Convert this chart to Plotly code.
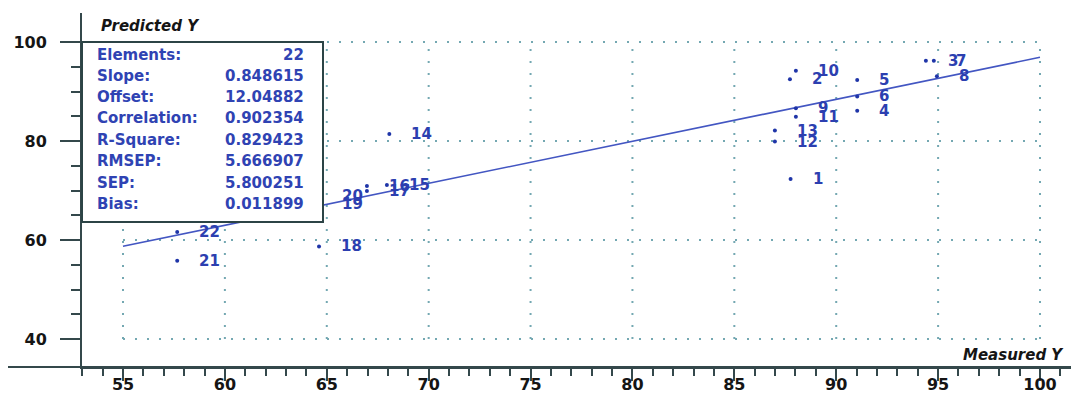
import plotly.graph_objects as go

# ---------------- data ----------------
point_ids = [str(i) for i in range(1, 23)]
measured = [87.76, 87.73, 94.40, 91.03, 91.03, 91.03, 94.79, 94.94, 88.02, 88.02, 88.02,
            86.99, 86.99, 68.07, 67.95, 66.97, 66.97, 64.62, 64.67, 64.67, 57.66, 57.66]
predicted = [72.3, 92.5, 96.2, 86.1, 92.3, 89.0, 96.2, 93.1, 86.6, 94.2, 84.9,
             79.9, 82.1, 81.4, 71.1, 70.9, 69.9, 58.7, 67.3, 68.9, 55.8, 61.6]

stat_names = ["Elements:", "Slope:", "Offset:", "Correlation:", "R-Square:",
              "RMSEP:", "SEP:", "Bias:"]
stat_values = ["22", "0.848615", "12.04882", "0.902354", "0.829423",
               "5.666907", "5.800251", "0.011899"]
slope = 0.848615
offset = 12.04882

x_ticks = [55, 60, 65, 70, 75, 80, 85, 90, 95, 100]
y_ticks = [40, 60, 80, 100]
y_minor = [45, 50, 55, 65, 70, 75, 85, 90, 95]

# ---------------- layout geometry ----------------
W, H = 1071, 394
ML, MR, MT, MB = 82, 0, 13, 27
PW, PH = W - ML - MR, H - MT - MB
KX = (1040 - 123) / 45.0
KY = (339 - 42) / 60.0
X0 = 55 - (123 - ML) / KX
X1 = X0 + PW / KX
Y0 = 40 - ((H - MB) - 339) / KY
Y1 = Y0 + PH / KY


def px(xp):
    return (xp - ML) / PW


def py(yp):
    return ((H - MB) - yp) / PH


AXC = "#34484b"
GRIDC = "#74a8b2"
BLUE = "#2f43b3"
FONT = "DejaVu Sans"

fig = go.Figure()

# regression line
fit_x = [x_ticks[0], x_ticks[-1]]
fit_y = [slope * v + offset for v in fit_x]
fig.add_trace(go.Scatter(x=fit_x, y=fit_y, mode="lines",
                         line=dict(color="#4356c2", width=1.6),
                         hoverinfo="skip", showlegend=False))

# points
fig.add_trace(go.Scatter(x=measured, y=predicted, mode="markers",
                         marker=dict(size=4, color="#1f35a8"),
                         text=point_ids, showlegend=False))

shapes = []
# dotted grid confined to data region
for xv in x_ticks:
    shapes.append(dict(type="line", xref="x", yref="y", x0=xv, x1=xv,
                       y0=y_ticks[0], y1=y_ticks[-1], layer="below",
                       line=dict(color=GRIDC, width=2, dash="2px,10px")))
for yv in y_ticks:
    shapes.append(dict(type="line", xref="x", yref="y", x0=x_ticks[0], x1=x_ticks[-1],
                       y0=yv, y1=yv, layer="below",
                       line=dict(color=GRIDC, width=2, dash="2px,10px")))
# x axis line extension to the left
shapes.append(dict(type="line", xref="paper", yref="paper", x0=px(8), x1=1.0,
                   y0=0, y1=0, layer="above", line=dict(color=AXC, width=2)))
# stats box
shapes.append(dict(type="rect", xref="paper", yref="paper",
                   x0=px(82), x1=px(323), y0=py(222), y1=py(42), layer="above",
                   fillcolor="white", line=dict(color="#2c4446", width=2)))

annotations = []
row_y = [55, 76, 97, 118.5, 140, 161, 183, 204]
for name, val, ry in zip(stat_names, stat_values, row_y):
    annotations.append(dict(xref="paper", yref="paper", x=px(95), y=py(ry),
                            text=name, showarrow=False, xanchor="left", yanchor="middle",
                            font=dict(family=FONT, size=15, color=BLUE, weight="bold")))
    annotations.append(dict(xref="paper", yref="paper", x=px(306), y=py(ry),
                            text=val, showarrow=False, xanchor="right", yanchor="middle",
                            font=dict(family=FONT, size=15, color=BLUE, weight="bold")))

for lab, mx, my in zip(point_ids, measured, predicted):
    annotations.append(dict(xref="x", yref="y", x=mx, y=my, text=lab, showarrow=False,
                            xanchor="left", yanchor="middle", xshift=20,
                            font=dict(family=FONT, size=15, color="#2c3fb0", weight="bold")))

annotations.append(dict(xref="paper", yref="paper", x=px(99), y=py(26), text="Predicted Y",
                        showarrow=False, xanchor="left", yanchor="middle",
                        font=dict(family=FONT, size=15, color="#151515", weight="bold",
                                  style="italic")))
annotations.append(dict(xref="paper", yref="paper", x=px(1066), y=py(355), text="Measured Y",
                        showarrow=False, xanchor="right", yanchor="middle",
                        font=dict(family=FONT, size=15, color="#151515", weight="bold",
                                  style="italic")))

fig.update_layout(
    width=W, height=H,
    margin=dict(l=ML, r=MR, t=MT, b=MB, pad=0, autoexpand=False),
    paper_bgcolor="white", plot_bgcolor="white",
    showlegend=False,
    shapes=shapes, annotations=annotations,
    xaxis=dict(range=[X0, X1], showline=True, linecolor=AXC, linewidth=2,
               automargin=False,
               ticks="outside", ticklen=12, tickwidth=2, tickcolor=AXC,
               tickmode="array", tickvals=x_ticks, ticktext=[str(t) for t in x_ticks],
               tickfont=dict(family=FONT, size=16, color="#151515", weight="bold"),
               showgrid=False, zeroline=False, ticklabelstandoff=-10,
               minor=dict(ticks="outside", ticklen=7, tickwidth=1.5, tickcolor=AXC,
                          dtick=1, tick0=0, showgrid=False)),
    yaxis=dict(range=[Y0, Y1], showline=True, linecolor=AXC, linewidth=2,
               automargin=False,
               ticks="outside", ticklen=20, tickwidth=2, tickcolor=AXC,
               tickmode="array", tickvals=y_ticks, ticktext=[str(t) for t in y_ticks],
               tickfont=dict(family=FONT, size=16, color="#151515", weight="bold"),
               showgrid=False, zeroline=False, ticklabelstandoff=10,
               minor=dict(ticks="outside", ticklen=9, tickwidth=2, tickcolor=AXC,
                          tickmode="array", tickvals=y_minor, showgrid=False)),
)

fig.write_html("out.html", config={"displayModeBar": False},
               post_script="document.body.style.margin='0';document.body.style.overflow='hidden';")
